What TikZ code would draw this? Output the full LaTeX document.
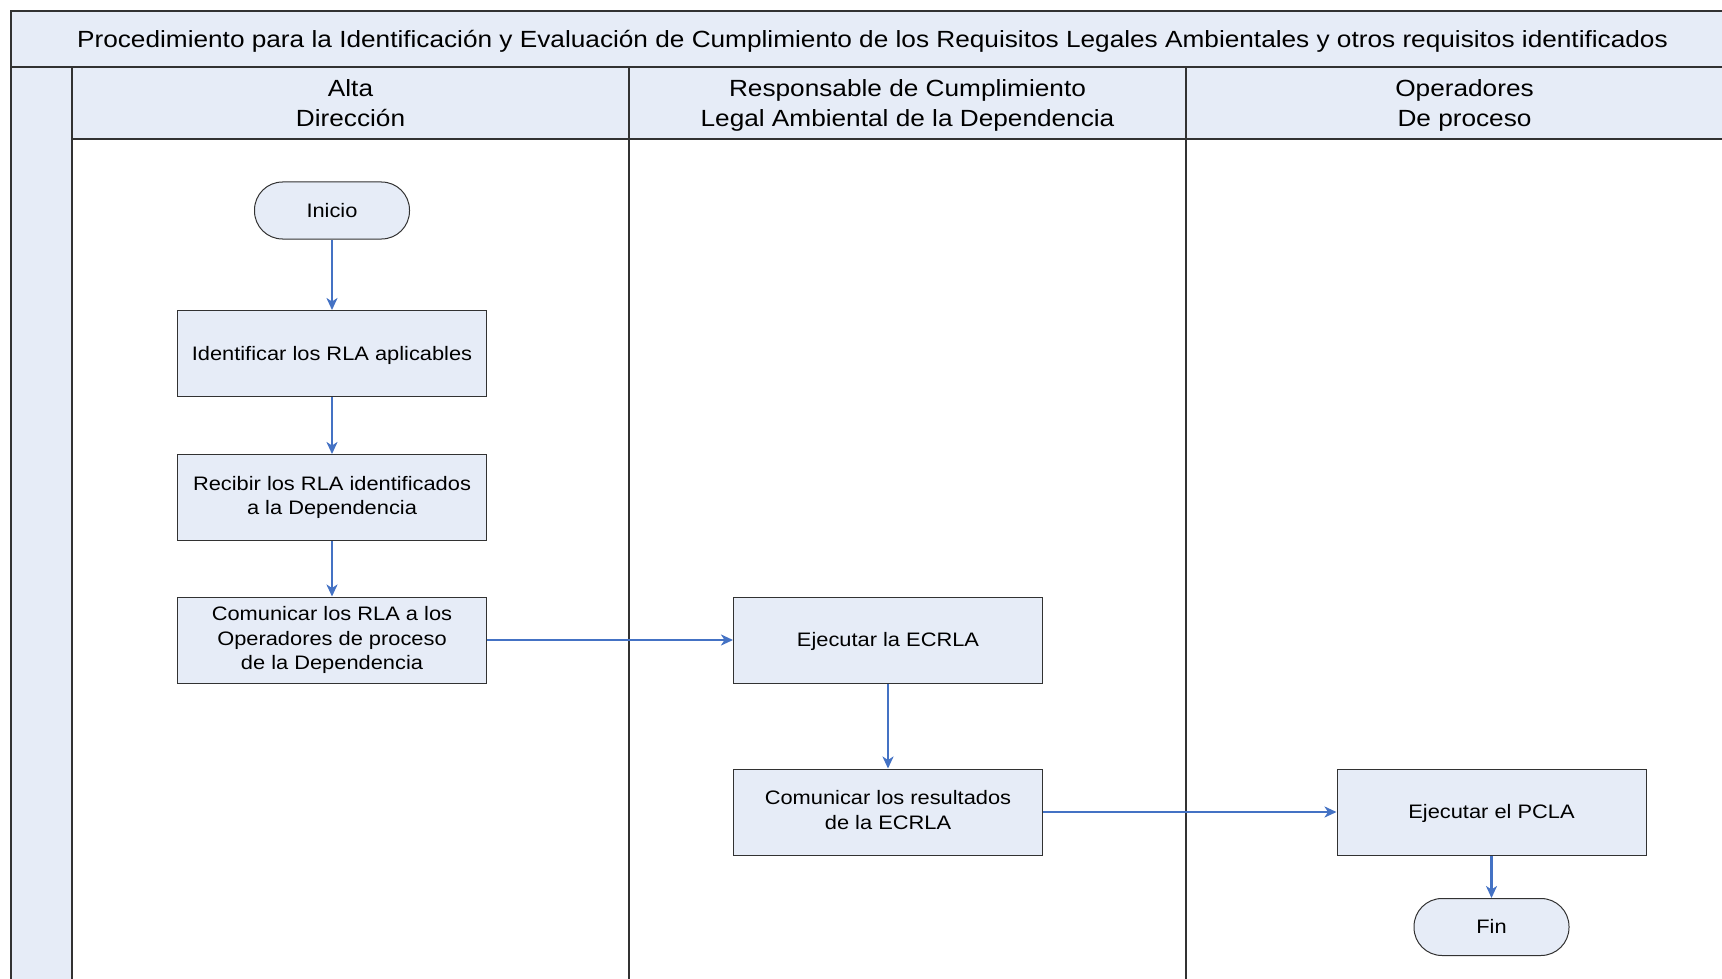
\documentclass[tikz,border=0pt]{standalone}
\usepackage{fontspec}
\setmainfont{Liberation Sans}[FakeStretch=1.12]
\usetikzlibrary{arrows.meta}
\definecolor{laneblue}{RGB}{230,236,247}
\definecolor{flowblue}{RGB}{68,114,196}
\definecolor{edgegray}{RGB}{50,50,50}
\newcommand{\linestrut}{\rule[-0.212em]{0pt}{1.117em}}

\begin{document}
\begin{tikzpicture}[x=1pt, y=-1pt,
    boxtext/.style={align=center, execute at begin node=\linestrut, execute at end node=\linestrut},
    proc/.style={boxtext, draw=edgegray, line width=1pt, fill=laneblue, minimum width=309pt, minimum height=86pt, inner sep=0pt, font=\fontsize{19.5}{24.5}\selectfont},
    term/.style={boxtext, draw=edgegray, line width=1pt, fill=laneblue, rounded corners=28pt, minimum width=155pt, minimum height=57pt, inner sep=0pt, font=\fontsize{19.5}{24.5}\selectfont},
    flow/.style={draw=flowblue, line width=2.2pt, -{Stealth[length=12pt, width=11pt, inset=3.5pt]}},
    lanehead/.style={boxtext, inner sep=0pt, font=\fontsize{23.4}{30}\selectfont}]
    \useasboundingbox (0,0) rectangle (1722,979);

    % Pool and lanes
    \fill[laneblue] (11,11) rectangle (1743,67);
    \fill[laneblue] (11,67) rectangle (72,990);
    \fill[laneblue] (72,67) rectangle (1743,139);
    \draw[edgegray, line width=1.3pt] (11,990) -- (11,11) -- (1743,11);
    \draw[edgegray, line width=2pt] (11,67) -- (1743,67);
    \draw[edgegray, line width=1.3pt] (72,139) -- (1743,139);
    \foreach \x in {72,629,1186}
        \draw[edgegray, line width=1.3pt] (\x,67) -- (\x,990);

    \node[lanehead] (titulo) at (872.5,39) {Procedimiento para la Identificación y Evaluación de Cumplimiento de los Requisitos Legales Ambientales y otros requisitos identificados};
    \node[lanehead] (alta) at (350.5,106) {Alta\\Dirección};
    \node[lanehead] (responsable) at (907.5,106) {Responsable de Cumplimiento\\Legal Ambiental de la Dependencia};
    \node[lanehead] (operadores) at (1464.5,106) {Operadores\\De proceso};

    % Alta Direccion
    \node[term] (inicio) at (332,210.5) {Inicio};
    \node[proc] (identificar) at (332,353.5) {Identificar los RLA aplicables};
    \node[proc] (recibir) at (332,497.5) {Recibir los RLA identificados\\a la Dependencia};
    \node[proc] (comunicar) at (332,640) {Comunicar los RLA a los\\Operadores de proceso\\de la Dependencia};

    % Responsable
    \node[proc] (ecrla) at (888,640) {Ejecutar la ECRLA};
    \node[proc] (resultados) at (888,812) {Comunicar los resultados\\de la ECRLA};

    % Operadores
    \node[proc] (pcla) at (1491.5,812) {Ejecutar el PCLA};
    \node[term] (fin) at (1491.5,927) {Fin};

    \draw[flow] (inicio) -- (identificar);
    \draw[flow] (identificar) -- (recibir);
    \draw[flow] (recibir) -- (comunicar);
    \draw[flow] (comunicar) -- (ecrla);
    \draw[flow] (ecrla) -- (resultados);
    \draw[flow] (resultados) -- (pcla);
    \draw[flow] (pcla) -- (fin);
\end{tikzpicture}
\end{document}
